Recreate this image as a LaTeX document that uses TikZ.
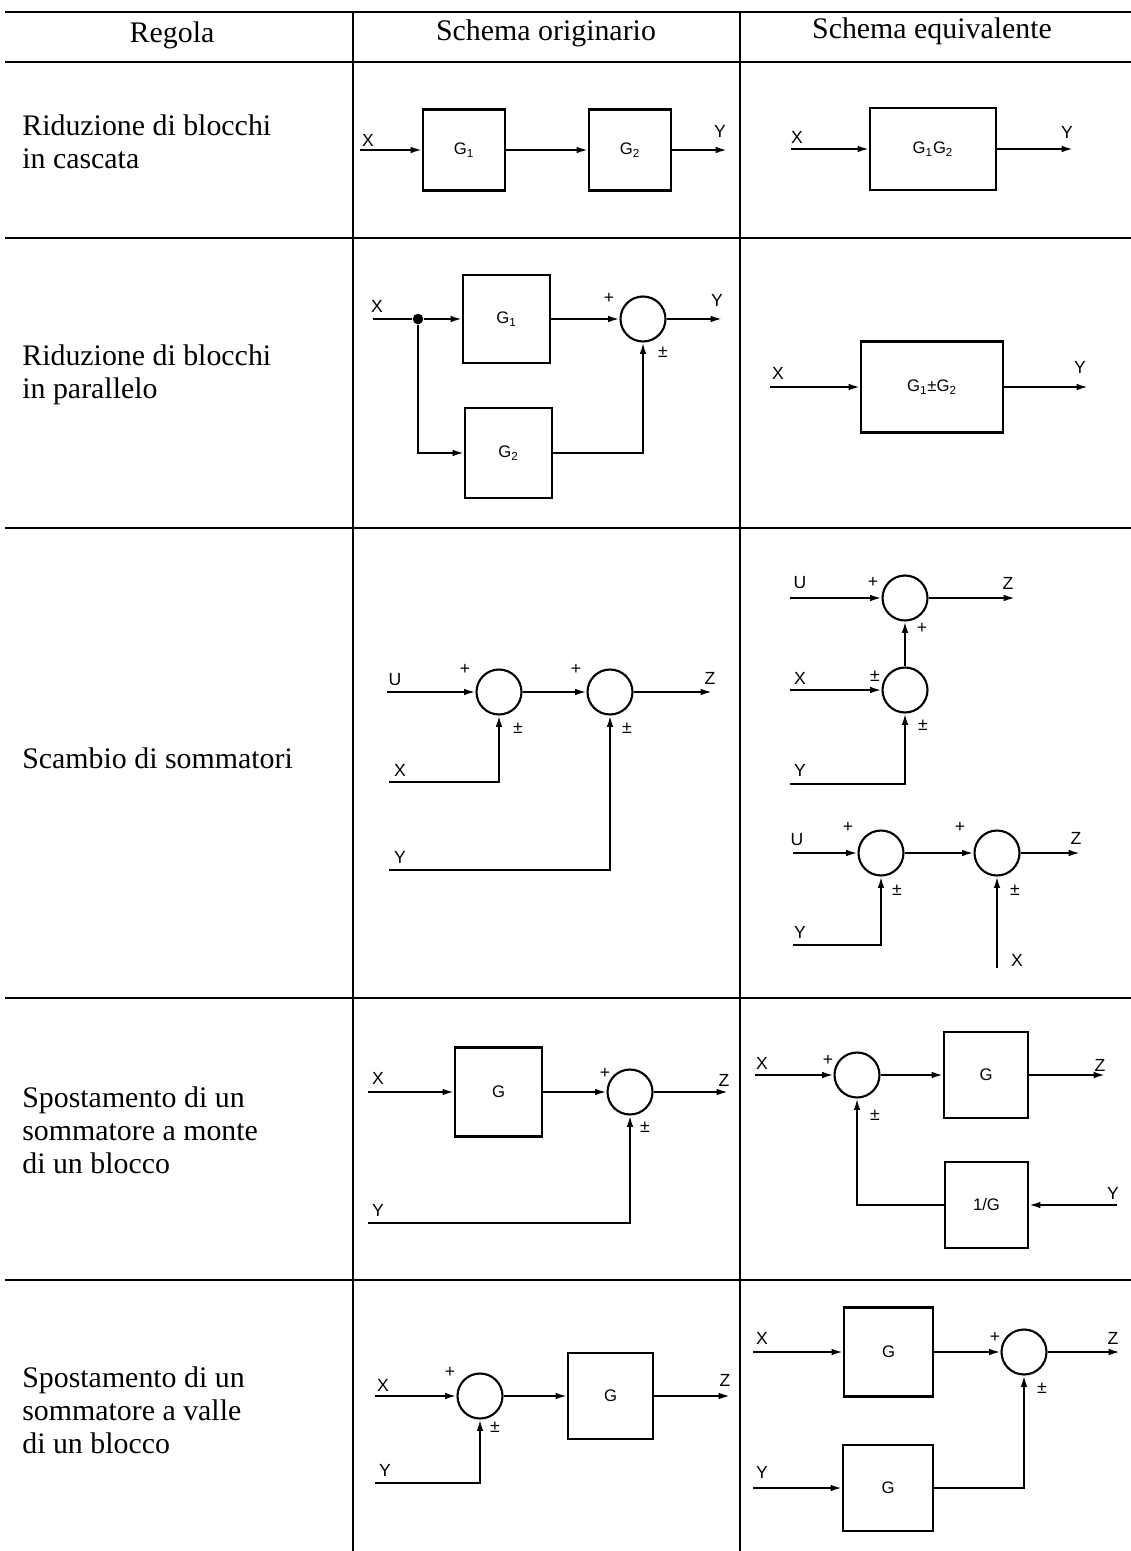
\documentclass[tikz,border=0pt]{standalone}
\usepackage{fontspec}
\setmainfont{Liberation Serif}
\newfontfamily\dfont{Liberation Sans}
\usetikzlibrary{arrows.meta}
\tikzset{
  blk/.style 2 args={draw, line width=1.2pt, inner sep=0, font=\dfont\fontsize{9.5}{11}\selectfont,
     minimum width=#1*0.02cm, minimum height=#2*0.02cm},
  summ/.style={draw, circle, line width=1.2pt, minimum size=0.9cm, inner sep=0},
  sig/.style={line width=1.1pt, -{Latex[length=6.5pt,width=3.8pt]}},
  wire/.style={line width=1.1pt},
  lab/.style={font=\dfont\fontsize{10}{12}\selectfont, inner sep=0},
  txt/.style={font=\fontsize{17}{18.7}\selectfont, anchor=west, align=left, inner sep=0},
  hdr/.style={font=\fontsize{17}{18.7}\selectfont, inner sep=0},
  dot/.style={circle, fill, inner sep=0, minimum size=6pt},
  rule/.style={line width=1.4pt},
  grid/.style={line width=0.6pt}
}
\begin{document}
\begin{tikzpicture}[x=0.02cm,y=-0.02cm]
\useasboundingbox (0,0) rectangle (1131,1551);
% ---------- table ----------
\draw[rule] (5,12) -- (1131,12);
\draw[line width=1.2pt] (5,62) -- (1131,62);
\foreach \yy in {238,528,998,1280} \draw[grid] (5,\yy) -- (1131,\yy);
\draw[grid] (353,12) -- (353,1551);
\draw[grid] (740,12) -- (740,1551);
\node[hdr] (h1) at (172,35) {Regola};
\node[hdr] (h2) at (546,33) {Schema originario};
\node[hdr] (h3) at (932,31) {Schema equivalente};
\node[txt] (t1) at (22,141.5) {Riduzione di blocchi\\in cascata};
\node[txt] (t2) at (22,374.5) {Riduzione di blocchi\\in parallelo};
\node[txt] (t3) at (22,758) {Scambio di sommatori};
\node[txt] (t4) at (22,1130.5) {Spostamento di un\\sommatore a monte\\di un blocco};
\node[txt] (t5) at (22,1410) {Spostamento di un\\sommatore a valle\\di un blocco};

% ---------- row 1 original ----------
\node[blk={82}{81}] (a1) at (464,150) {G\textsubscript{1}};
\node[blk={82}{81}] (a2) at (630,150) {G\textsubscript{2}};
\coordinate (a0) at (360,150);
\coordinate (a3) at (727,150);
\draw[sig] (a0) -- (a1.west);
\draw[sig] (a1.east) -- (a2.west);
\draw[sig] (a2.east) -- (a3);
\node[lab] (aX) at (368,140) {X};
\node[lab] (aY) at (720,131) {Y};
% ---------- row 1 equivalent ----------
\node[blk={126}{82}] (b1) at (933,149) {G\textsubscript{1}G\textsubscript{2}};
\coordinate (b0) at (791,149);
\coordinate (b2) at (1073,149);
\draw[sig] (b0) -- (b1.west);
\draw[sig] (b1.east) -- (b2);
\node[lab] (bX) at (797,137) {X};
\node[lab] (bY) at (1067,132) {Y};

% ---------- row 2 original ----------
\node[blk={87}{88}] (c1) at (506.5,319) {G\textsubscript{1}};
\node[blk={87}{90}] (c2) at (508.5,453) {G\textsubscript{2}};
\node[summ] (cS) at (643,319) {};
\node[dot] (cJ) at (418,319) {};
\coordinate (c0) at (373,319);
\coordinate (c3) at (722,319);
\draw[wire] (c0) -- (cJ);
\draw[sig] (cJ) -- (c1.west);
\draw[sig] (cJ) |- (c2.west);
\draw[sig] (c1.east) -- (cS.west);
\draw[sig] (c2.east) -| (cS.south);
\draw[sig] (cS.east) -- (c3);
\node[lab] (cX) at (377,306) {X};
\node[lab] (cY) at (717,300) {Y};
\node[lab] (cp) at (609,298) {+};
\node[lab] (cpm) at (663,352) {±};
% ---------- row 2 equivalent ----------
\node[blk={142}{91}] (d1) at (932,387) {G\textsubscript{1}±G\textsubscript{2}};
\coordinate (d0) at (770,387);
\coordinate (d2) at (1088,387);
\draw[sig] (d0) -- (d1.west);
\draw[sig] (d1.east) -- (d2);
\node[lab] (dX) at (778,373) {X};
\node[lab] (dY) at (1080,367) {Y};

% ---------- row 3 original ----------
\node[summ] (e1) at (499,692) {};
\node[summ] (e2) at (610,692) {};
\coordinate (eU) at (387,692);
\coordinate (eZ) at (712,692);
\coordinate (eX) at (389,782);
\coordinate (eY) at (389,870);
\draw[sig] (eU) -- (e1.west);
\draw[sig] (e1.east) -- (e2.west);
\draw[sig] (e2.east) -- (eZ);
\draw[sig] (eX) -| (e1.south);
\draw[sig] (eY) -| (e2.south);
\node[lab] (eUl) at (395,680) {U};
\node[lab] (eZl) at (710,678) {Z};
\node[lab] (eXl) at (400,770) {X};
\node[lab] (eYl) at (400,857) {Y};
\node[lab] (ep1) at (465,669) {+};
\node[lab] (ep2) at (576,669) {+};
\node[lab] (epm1) at (518,728) {±};
\node[lab] (epm2) at (627,728) {±};
% ---------- row 3 equivalent (upper) ----------
\node[summ] (fA) at (905,598) {};
\node[summ] (fB) at (905,690) {};
\coordinate (fU) at (790,598);
\coordinate (fZ) at (1015,598);
\coordinate (fX) at (790,690);
\coordinate (fY) at (790,784);
\draw[sig] (fU) -- (fA.west);
\draw[sig] (fA.east) -- (fZ);
\draw[sig] (fB.north) -- (fA.south);
\draw[sig] (fX) -- (fB.west);
\draw[sig] (fY) -| (fB.south);
\node[lab] (fUl) at (800,583) {U};
\node[lab] (fZl) at (1008,583) {Z};
\node[lab] (fXl) at (800,678) {X};
\node[lab] (fYl) at (800,770) {Y};
\node[lab] (fp1) at (873,582) {+};
\node[lab] (fp2) at (922,628) {+};
\node[lab] (fpm1) at (875,676) {±};
\node[lab] (fpm2) at (923,725) {±};
% ---------- row 3 equivalent (lower) ----------
\node[summ] (gC) at (881,853) {};
\node[summ] (gD) at (997,853) {};
\coordinate (gU) at (793,853);
\coordinate (gZ) at (1080,853);
\coordinate (gY) at (793,945);
\coordinate (gX) at (997,968);
\draw[sig] (gU) -- (gC.west);
\draw[sig] (gC.east) -- (gD.west);
\draw[sig] (gD.east) -- (gZ);
\draw[sig] (gY) -| (gC.south);
\draw[sig] (gX) -- (gD.south);
\node[lab] (gUl) at (797,840) {U};
\node[lab] (gZl) at (1076,838) {Z};
\node[lab] (gYl) at (800,932) {Y};
\node[lab] (gXl) at (1017,960) {X};
\node[lab] (gp1) at (848,827) {+};
\node[lab] (gp2) at (960,827) {+};
\node[lab] (gpm1) at (897,890) {±};
\node[lab] (gpm2) at (1015,890) {±};

% ---------- row 4 original ----------
\node[blk={87}{89}] (h1b) at (498.5,1092) {G};
\node[summ] (hS) at (630,1092) {};
\coordinate (hX) at (368,1092);
\coordinate (hZ) at (728,1092);
\coordinate (hY) at (368,1223);
\draw[sig] (hX) -- (h1b.west);
\draw[sig] (h1b.east) -- (hS.west);
\draw[sig] (hS.east) -- (hZ);
\draw[sig] (hY) -| (hS.south);
\node[lab] (hXl) at (378,1078) {X};
\node[lab] (hZl) at (724,1080) {Z};
\node[lab] (hYl) at (378,1210) {Y};
\node[lab] (hp) at (605,1073) {+};
\node[lab] (hpm) at (645,1127) {±};
% ---------- row 4 equivalent ----------
\node[summ] (iS) at (857,1075) {};
\node[blk={84}{86}] (iG) at (986,1075) {G};
\node[blk={83}{86}] (iH) at (986.5,1205) {1/G};
\coordinate (iX) at (755,1075);
\coordinate (iZ) at (1105,1075);
\coordinate (iY) at (1117,1205);
\draw[sig] (iX) -- (iS.west);
\draw[sig] (iS.east) -- (iG.west);
\draw[sig] (iG.east) -- (iZ);
\draw[sig] (iY) -- (iH.east);
\draw[sig] (iH.west) -| (iS.south);
\node[lab] (iXl) at (762,1063) {X};
\node[lab] (iZl) at (1100,1065) {Z};
\node[lab] (iYl) at (1113,1193) {Y};
\node[lab] (ip) at (828,1060) {+};
\node[lab] (ipm) at (875,1115) {±};

% ---------- row 5 original ----------
\node[summ] (jS) at (480,1396) {};
\node[blk={85}{86}] (jG) at (610.5,1396) {G};
\coordinate (jX) at (375,1396);
\coordinate (jZ) at (730,1396);
\coordinate (jY) at (375,1483);
\draw[sig] (jX) -- (jS.west);
\draw[sig] (jS.east) -- (jG.west);
\draw[sig] (jG.east) -- (jZ);
\draw[sig] (jY) -| (jS.south);
\node[lab] (jXl) at (383,1385) {X};
\node[lab] (jZl) at (725,1380) {Z};
\node[lab] (jYl) at (385,1470) {Y};
\node[lab] (jp) at (450,1372) {+};
\node[lab] (jpm) at (495,1427) {±};
% ---------- row 5 equivalent ----------
\node[blk={89}{89}] (kG1) at (888.5,1352) {G};
\node[blk={90}{86}] (kG2) at (888,1488) {G};
\node[summ] (kS) at (1024,1352) {};
\coordinate (kX) at (753,1352);
\coordinate (kZ) at (1120,1352);
\coordinate (kY) at (753,1488);
\draw[sig] (kX) -- (kG1.west);
\draw[sig] (kG1.east) -- (kS.west);
\draw[sig] (kS.east) -- (kZ);
\draw[sig] (kY) -- (kG2.west);
\draw[sig] (kG2.east) -| (kS.south);
\node[lab] (kXl) at (762,1338) {X};
\node[lab] (kZl) at (1113,1338) {Z};
\node[lab] (kYl) at (762,1472) {Y};
\node[lab] (kp) at (995,1337) {+};
\node[lab] (kpm) at (1042,1388) {±};
\end{tikzpicture}
\end{document}
